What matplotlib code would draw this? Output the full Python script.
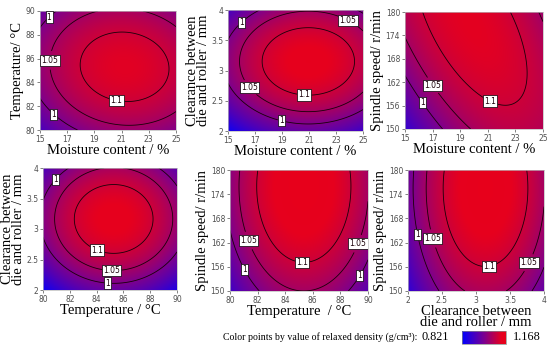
import numpy as np
import matplotlib
matplotlib.use("Agg")
import matplotlib.pyplot as plt
from matplotlib.colors import LinearSegmentedColormap, Normalize
from matplotlib.cm import ScalarMappable

# --- factor ranges ---
moisture_range = [15, 25]
temperature_range = [80, 90]
clearance_range = [2, 4]
speed_range = [150, 180]

moisture_ticks = [15, 17, 19, 21, 23, 25]
temperature_ticks = [80, 82, 84, 86, 88, 90]
clearance_ticks = [2, 2.5, 3, 3.5, 4]
speed_ticks = [150, 156, 162, 168, 174, 180]

label_moisture = "Moisture content / %"
label_temp_y = "Temperature/ °C"
label_temp_x = "Temperature / °C"
label_temp_x2 = "Temperature  / °C"
label_clearance = "Clearance between\ndie and roller / mm"
label_speed = "Spindle speed/ r/min"

# --- quadratic response surfaces in coded units (u, v in -1..1) ---
# density = b0 + bx*u + by*v + bxx*u^2 + byy*v^2 + bxy*u*v
b0 = [1.1230, 1.1349, 1.1156, 1.1362, 1.1365, 1.1342]
bx = [0.0318, 0.0333, 0.0354, 0.0127, 0.0168, 0.0375]
by = [0.0120, 0.0396, 0.0370, 0.0414, 0.0517, 0.0434]
bxx = [-0.0641, -0.0876, -0.0724, -0.1157, -0.1200, -0.1340]
byy = [-0.0802, -0.1320, -0.0242, -0.1256, -0.0354, -0.0310]
bxy = [-0.0083, 0.0, -0.0511, 0.0, 0.0, 0.0]

levels = [1.0, 1.05, 1.1]
density_min, density_max = 0.821, 1.168

# contour label positions (data units)
label_pos = [
    [(15.68, 89.47), (15.86, 85.85), (20.64, 82.54), (16.35, 81.75)],
    [(15.44, 3.92), (24.04, 3.89), (16.75, 2.74), (20.65, 2.69), (18.97, 2.2)],
    [(16.81, 160.7), (16.21, 156.7), (21.04, 156.4)],
    [(80.65, 3.86), (84.18, 2.74), (85.13, 2.42), (84.87, 2.18)],
    [(80.97, 162.0), (89.27, 161.7), (85.24, 158.3), (80.73, 154.75), (89.27, 154.2)],
    [(2.12, 164.0), (2.383, 163.1), (3.18, 157.25), (3.86, 156.3)],
]

panels = [
    (moisture_range, temperature_range, moisture_ticks, temperature_ticks, label_moisture, label_temp_y),
    (moisture_range, clearance_range, moisture_ticks, clearance_ticks, label_moisture, label_clearance),
    (moisture_range, speed_range, moisture_ticks, speed_ticks, label_moisture, label_speed),
    (temperature_range, clearance_range, temperature_ticks, clearance_ticks, label_temp_x, label_clearance),
    (temperature_range, speed_range, temperature_ticks, speed_ticks, label_temp_x2, label_speed),
    (clearance_range, speed_range, clearance_ticks, speed_ticks, label_clearance, label_speed),
]

# axes boxes in pixels: left, right, top, bottom
boxes = [
    (40, 176, 11, 130), (228, 363, 10, 131), (405, 543, 12, 129),
    (43, 177, 168, 290), (230, 368, 170, 291), (408, 544, 170, 291),
]

W, H = 550, 350
cmap = LinearSegmentedColormap.from_list(
    "bluered", [(0.0, "#0000ff"), (0.5, "#7a0090"), (0.9, "#e6001e"), (1.0, "#e8001a")])
norm = Normalize(density_min, density_max)

fig = plt.figure(figsize=(W / 100, H / 100), dpi=100)
serif = "Liberation Serif"

for i, (xr, yr, xt, yt, xl, yl) in enumerate(panels):
    l, r, t, b = boxes[i]
    ax = fig.add_axes([l / W, 1 - b / H, (r - l) / W, (b - t) / H])

    x = np.linspace(xr[0], xr[1], 200)
    y = np.linspace(yr[0], yr[1], 200)
    X, Y = np.meshgrid(x, y)
    U = (X - np.mean(xr)) / ((xr[1] - xr[0]) / 2)
    V = (Y - np.mean(yr)) / ((yr[1] - yr[0]) / 2)
    Z = b0[i] + bx[i] * U + by[i] * V + bxx[i] * U**2 + byy[i] * V**2 + bxy[i] * U * V

    ax.imshow(Z, origin="lower", extent=[xr[0], xr[1], yr[0], yr[1]],
              aspect="auto", cmap=cmap, norm=norm, interpolation="bilinear")
    cs = ax.contour(X, Y, Z, levels=levels, colors="#1a0008", linewidths=0.6)
    txts = ax.clabel(cs, fmt="%g", fontsize=5.5, manual=label_pos[i], inline=True, inline_spacing=1)
    for tx in txts:
        tx.set_rotation(0)
        tx.set_bbox(dict(facecolor="white", edgecolor="black", pad=0.8, linewidth=0.5))

    ax.set_xlim(xr)
    ax.set_ylim(yr)
    ax.set_xticks(xt)
    ax.set_yticks(yt)
    ax.set_xticklabels([f"{v:g}" for v in xt])
    ax.set_yticklabels([f"{v:g}" for v in yt])
    ax.tick_params(labelsize=5.5, colors="#505050", length=2, width=0.5, pad=1.5)
    for s in ax.spines.values():
        s.set_color("#bbbbbb")
        s.set_linewidth(0.5)
    ax.set_xlabel(xl, family=serif, fontsize=10.5, labelpad=0, linespacing=0.8)
    ax.set_ylabel(yl, family=serif, fontsize=10.5, labelpad=1, linespacing=0.8)

# colour scale strip
cax = fig.add_axes([462 / W, 1 - 344 / H, 44 / W, 13 / H])
cb = fig.colorbar(ScalarMappable(norm=norm, cmap=cmap), cax=cax, orientation="horizontal")
cb.set_ticks([])
cb.outline.set_edgecolor("#888888")
cb.outline.set_linewidth(0.5)
row_y = 1 - 337 / H
fig.text(417 / W, row_y, "Color points by value of relaxed density (g/cm³):",
         family=serif, fontsize=7.1, ha="right", va="center")
fig.text(422 / W, row_y, "0.821", family=serif, fontsize=8.8, ha="left", va="center")
fig.text(513 / W, row_y, "1.168", family=serif, fontsize=8.8, ha="left", va="center")

fig.savefig("out.png", dpi=100)
